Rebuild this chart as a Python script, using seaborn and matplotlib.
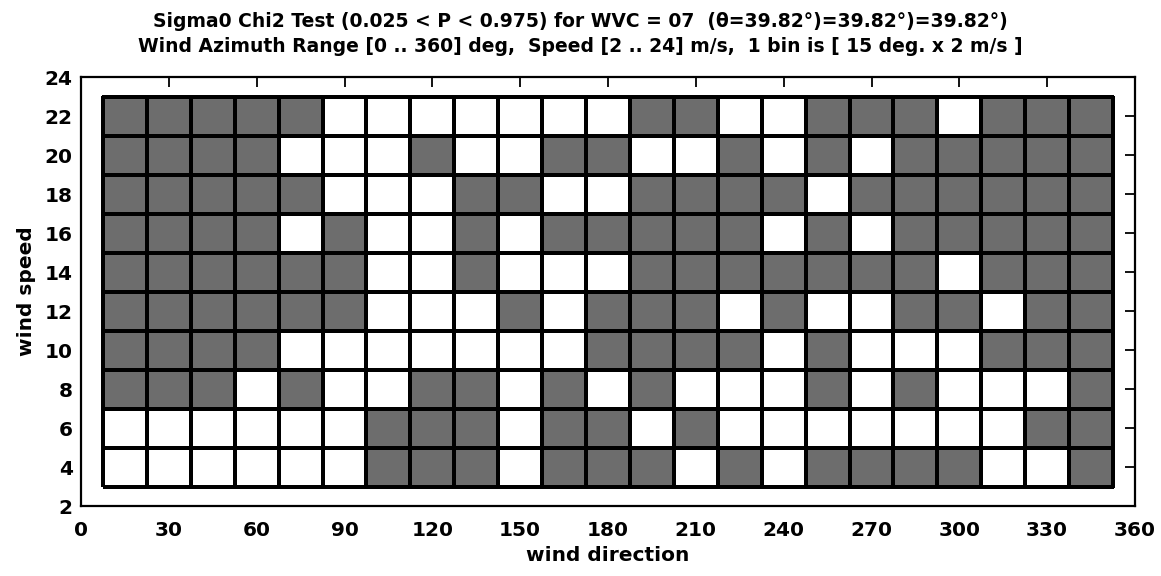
import numpy as np
import pandas as pd
import matplotlib
matplotlib.use("Agg")
import matplotlib.pyplot as plt
from matplotlib.colors import ListedColormap
import seaborn as sns

# Bin centres: wind direction (deg) and wind speed (m/s)
directions = [15, 30, 45, 60, 75, 90, 105, 120, 135, 150, 165, 180,
              195, 210, 225, 240, 255, 270, 285, 300, 315, 330, 345]
speeds = [22, 20, 18, 16, 14, 12, 10, 8, 6, 4]

# Chi2 test outcome per bin (1 = outside 0.025 < P < 0.975, shaded)
row_22 = [1, 1, 1, 1, 1, 0, 0, 0, 0, 0, 0, 0, 1, 1, 0, 0, 1, 1, 1, 0, 1, 1, 1]
row_20 = [1, 1, 1, 1, 0, 0, 0, 1, 0, 0, 1, 1, 0, 0, 1, 0, 1, 0, 1, 1, 1, 1, 1]
row_18 = [1, 1, 1, 1, 1, 0, 0, 0, 1, 1, 0, 0, 1, 1, 1, 1, 0, 1, 1, 1, 1, 1, 1]
row_16 = [1, 1, 1, 1, 0, 1, 0, 0, 1, 0, 1, 1, 1, 1, 1, 0, 1, 0, 1, 1, 1, 1, 1]
row_14 = [1, 1, 1, 1, 1, 1, 0, 0, 1, 0, 0, 0, 1, 1, 1, 1, 1, 1, 1, 0, 1, 1, 1]
row_12 = [1, 1, 1, 1, 1, 1, 0, 0, 0, 1, 0, 1, 1, 1, 0, 1, 0, 0, 1, 1, 0, 1, 1]
row_10 = [1, 1, 1, 1, 0, 0, 0, 0, 0, 0, 0, 1, 1, 1, 1, 0, 1, 0, 0, 0, 1, 1, 1]
row_8 = [1, 1, 1, 0, 1, 0, 0, 1, 1, 0, 1, 0, 1, 0, 0, 0, 1, 0, 1, 0, 0, 0, 1]
row_6 = [0, 0, 0, 0, 0, 0, 1, 1, 1, 0, 1, 1, 0, 1, 0, 0, 0, 0, 0, 0, 0, 1, 1]
row_4 = [0, 0, 0, 0, 0, 0, 1, 1, 1, 0, 1, 1, 1, 0, 1, 0, 1, 1, 1, 1, 0, 0, 1]
flags = [row_22, row_20, row_18, row_16, row_14, row_12, row_10, row_8, row_6, row_4]

x_ticks = [0, 30, 60, 90, 120, 150, 180, 210, 240, 270, 300, 330, 360]
y_ticks = [2, 4, 6, 8, 10, 12, 14, 16, 18, 20, 22, 24]

title_1 = "Sigma0 Chi2 Test (0.025 < P < 0.975) for WVC = 07  (θ=39.82°)=39.82°)=39.82°)"
title_2 = "Wind Azimuth Range [0 .. 360] deg,  Speed [2 .. 24] m/s,  1 bin is [ 15 deg. x 2 m/s ]"

records = []
for spd, row in zip(speeds, flags):
    for d, f in zip(directions, row):
        records.append({"direction": d, "speed": spd, "flag": f})
df = pd.DataFrame(records)

sns.set_theme(style="white")
plt.rcParams["font.family"] = ["DejaVu Sans"]
plt.rcParams["font.weight"] = "bold"
plt.rcParams["text.color"] = "black"
plt.rcParams["axes.labelcolor"] = "black"

fig = plt.figure(figsize=(11.61, 5.76), dpi=100)
ax = fig.add_axes([0.0698, 0.1215, 0.9078, 0.7448])

sns.histplot(
    data=df, x="direction", y="speed", weights="flag",
    binwidth=(15, 2), binrange=((7.5, 352.5), (3, 23)),
    thresh=None, cmap=ListedColormap(["white", "#6d6d6d"]),
    vmin=0, vmax=1, edgecolor="black", linewidth=1.7, ax=ax,
)

ax.set_xlim(0, 360)
ax.set_ylim(2, 24)
ax.set_xticks(x_ticks)
ax.set_yticks(y_ticks)
ax.tick_params(direction="in", length=7, width=1.3, top=True, right=True,
               labelsize=14.5, colors="black")
ax.tick_params(axis="x", pad=11)
ax.tick_params(axis="y", pad=6)
for lab in ax.get_xticklabels() + ax.get_yticklabels():
    lab.set_fontweight("bold")
for sp in ax.spines.values():
    sp.set_color("black")
    sp.set_linewidth(1.6)

ax.set_xlabel("wind direction", fontsize=14.5, fontweight="bold", color="black", labelpad=4)
ax.set_ylabel("wind speed", fontsize=14.5, fontweight="bold", color="black", labelpad=6)
fig.text(0.5, 0.963, title_1, ha="center", va="center", fontsize=13.5, fontweight="bold", color="black")
fig.text(0.5, 0.920, title_2, ha="center", va="center", fontsize=13.5, fontweight="bold", color="black")

fig.savefig("out.png", dpi=100, facecolor="white")
